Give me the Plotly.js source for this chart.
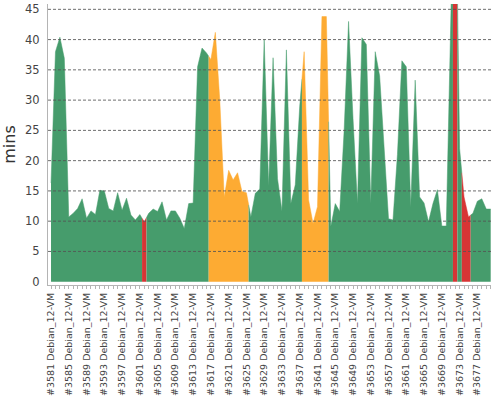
<!DOCTYPE html>
<html>
<head>
<meta charset="utf-8">
<script src="https://cdn.plot.ly/plotly-3.0.1.min.js"></script>
<style>
	html, body { margin: 0; padding: 0; background: #fff; }
	#chart { width: 500px; height: 400px; }
</style>
</head>
<body>
<div id="chart"></div>
<script>
// build numbers, oldest first
var builds = [
	3581, 3582, 3583, 3584, 3585, 3586, 3587, 3588, 3589, 3590,
	3591, 3592, 3593, 3594, 3595, 3596, 3597, 3598, 3599, 3600,
	3601, 3602, 3603, 3604, 3605, 3606, 3607, 3608, 3609, 3610,
	3611, 3612, 3613, 3614, 3615, 3616, 3617, 3618, 3619, 3620,
	3621, 3622, 3623, 3624, 3625, 3626, 3627, 3628, 3629, 3630,
	3631, 3632, 3633, 3634, 3635, 3636, 3637, 3638, 3639, 3640,
	3641, 3642, 3643, 3644, 3645, 3646, 3647, 3648, 3649, 3650,
	3651, 3652, 3653, 3654, 3655, 3656, 3657, 3658, 3659, 3660,
	3661, 3662, 3663, 3664, 3665, 3666, 3667, 3668, 3669, 3670,
	3671, 3672, 3673, 3674, 3675, 3676, 3677, 3678, 3679, 3680
];
var nodeName = 'Debian_12-VM';

// build duration in minutes
var durations = [
	16.3, 38.0, 40.4, 36.9, 10.7, 11.3, 12.1, 13.7, 10.5, 11.7,
	11.1, 15.1, 15.0, 12.1, 11.7, 14.7, 11.8, 13.8, 11.0, 10.2,
	11.1, 9.9, 11.3, 12.0, 11.6, 13.2, 10.2, 11.7, 11.7, 10.5,
	8.8, 12.9, 13.0, 35.5, 38.6, 37.8, 36.7, 41.2, 30.0, 14.0,
	18.4, 16.8, 18.0, 14.9, 14.7, 10.7, 14.6, 15.3, 40.0, 15.8,
	37.0, 17.0, 11.7, 38.3, 12.9, 16.0, 29.0, 38.0, 13.5, 9.6,
	12.4, 43.8, 43.8, 9.1, 12.9, 11.6, 25.0, 43.0, 27.0, 12.9,
	40.3, 39.2, 12.9, 38.0, 34.0, 22.0, 10.4, 10.2, 21.0, 36.5,
	35.5, 12.4, 33.3, 14.0, 13.0, 9.9, 12.9, 15.2, 9.2, 9.2,
	44.0, 75.0, 22.0, 14.0, 10.7, 11.3, 13.3, 13.7, 12.0, 12.0
];

// S = success, U = unstable, F = failure
var results = [
	'S','S','S','S','S','S','S','S','S','S',
	'S','S','S','S','S','S','S','S','S','S',
	'S','F','S','S','S','S','S','S','S','S',
	'S','S','S','S','S','S','U','U','U','U',
	'U','U','U','U','U','S','S','S','S','S',
	'S','S','S','S','S','S','S','U','U','U',
	'U','U','U','S','S','S','S','S','S','S',
	'S','S','S','S','S','S','S','S','S','S',
	'S','S','S','S','S','S','S','S','S','S',
	'S','F','S','F','F','S','S','S','S','S'
];

var yTicks = [0, 5, 10, 15, 20, 25, 30, 35, 40, 45];
var labelEvery = 4;

var colors = { S: '#469c6c', U: '#fdab33', F: '#d73535' };
var n = durations.length;

// every build owns the band from half way to the previous build to half way to the next one;
// consecutive builds with the same result are drawn as one area
var runs = [];
for (var i = 0; i < n; i++) {
	if (runs.length && runs[runs.length - 1].r === results[i]) {
		runs[runs.length - 1].b = i;
	} else {
		runs.push({ r: results[i], a: i, b: i });
	}
}

var traces = runs.map(function(run) {
	var x = [], y = [];
	if (run.a > 0) {
		x.push(run.a - 0.5);
		y.push((durations[run.a - 1] + durations[run.a]) / 2);
	}
	for (var k = run.a; k <= run.b; k++) {
		x.push(k);
		y.push(durations[k]);
	}
	if (run.b < n - 1) {
		x.push(run.b + 0.5);
		y.push((durations[run.b] + durations[run.b + 1]) / 2);
	}
	return {
		type: 'scatter',
		mode: 'lines',
		x: x,
		y: y,
		fill: 'tozeroy',
		fillcolor: colors[run.r],
		line: { color: colors[run.r], width: 0.5 },
		hoverinfo: 'skip',
		showlegend: false
	};
});

var tickVals = [], tickText = [];
for (var j = 0; j < n; j += labelEvery) {
	tickVals.push(j);
	tickText.push('#' + builds[j] + ' ' + nodeName);
}

// dashed grid drawn over the areas
var gridShapes = yTicks.filter(function(t) { return t > 0; }).map(function(t) {
	return {
		type: 'line', layer: 'above',
		xref: 'paper', x0: 0, x1: 1,
		yref: 'y', y0: t, y1: t,
		line: { color: 'rgba(85,85,85,0.85)', width: 1, dash: '3px,2px' }
	};
});

var layout = {
	width: 500,
	height: 400,
	margin: { l: 48, r: 9, t: 4, b: 115 },
	paper_bgcolor: '#fff',
	plot_bgcolor: '#fff',
	font: { family: 'DejaVu Sans', color: '#444' },
	xaxis: {
		range: [-0.68, 99.07],
		showgrid: false,
		zeroline: false,
		showline: true,
		linecolor: '#b4b4b4',
		linewidth: 1,
		ticks: 'outside',
		ticklen: 3,
		tickcolor: '#b4b4b4',
		tickvals: tickVals,
		ticktext: tickText,
		tickangle: -90,
		tickfont: { family: 'DejaVu Sans', size: 9.5, color: '#444' },
		minor: { ticks: 'outside', ticklen: 3, dtick: 1, tick0: 0, tickcolor: '#b4b4b4', showgrid: false }
	},
	yaxis: {
		range: [-0.545, 45.88],
		showgrid: false,
		zeroline: false,
		showline: true,
		linecolor: '#b4b4b4',
		linewidth: 1,
		ticks: '',
		tickvals: yTicks,
		ticklabelstandoff: 5,
		tickfont: { family: 'DejaVu Sans', size: 11.5, color: '#444' },
		title: { text: 'mins', standoff: 6, font: { family: 'DejaVu Sans', size: 16, color: '#333' } }
	},
	shapes: gridShapes
};

Plotly.newPlot('chart', traces, layout, { staticPlot: true, displayModeBar: false });
</script>
</body>
</html>
